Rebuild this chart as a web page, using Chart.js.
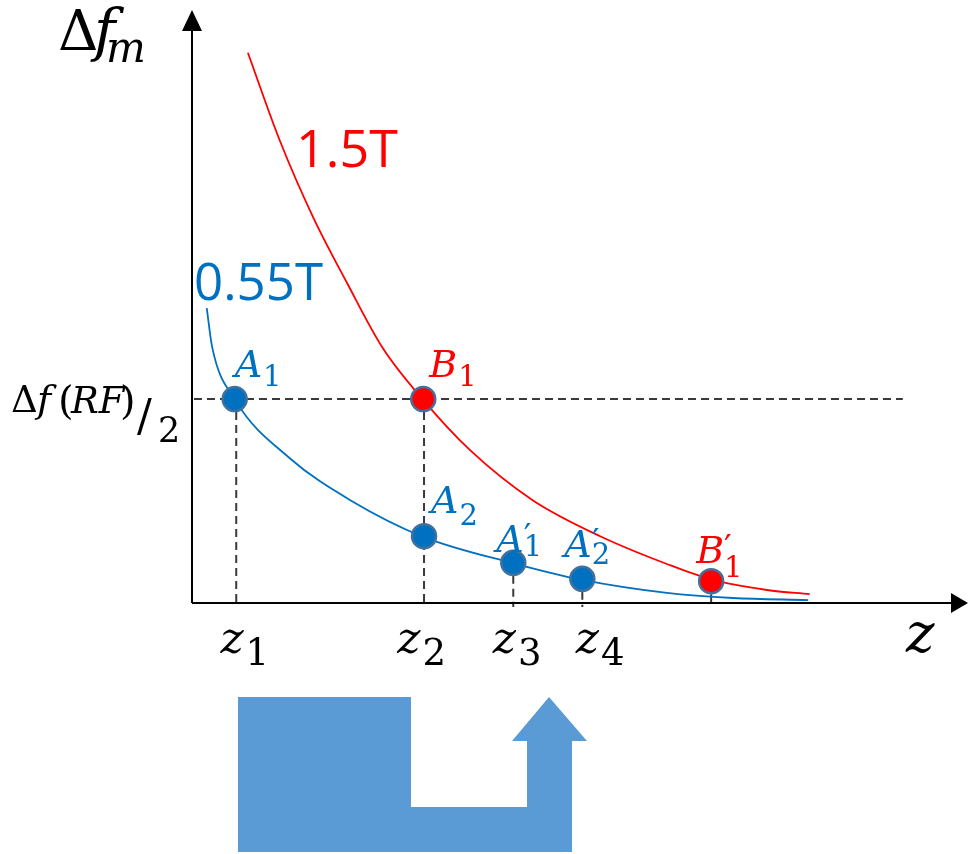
<!DOCTYPE html>
<html lang="en">
<head>
    <meta charset="UTF-8">
    <title>Δf_m vs z</title>
    <script src="https://cdn.jsdelivr.net/npm/chart.js"></script>
    <style>
        body {
            margin: 0;
            padding: 0;
            background: #ffffff;
        }
        #wrap {
            width: 968px;
            height: 854px;
        }
    </style>
</head>
<body>
    <div id="wrap">
        <canvas id="fieldChart" width="968" height="854"></canvas>
    </div>

    <script>
        // curves (z along x, Δf_m along y, arbitrary units 0..10)
        const redCurveZ = [0.72, 1.13, 1.56, 2.00, 2.46, 2.97, 3.58, 4.39, 5.26, 6.12, 6.71, 7.41, 7.96];
        const redCurveF = [9.31, 7.83, 6.53, 5.41, 4.31, 3.45, 2.59, 1.74, 1.13, 0.66, 0.39, 0.22, 0.15];
        const blueCurveZ = [0.19, 0.26, 0.55, 1.26, 2.04, 2.98, 4.12, 5.03, 6.12, 6.97, 7.94];
        const blueCurveF = [4.99, 4.33, 3.45, 2.45, 1.74, 1.12, 0.68, 0.39, 0.17, 0.085, 0.05];

        // marked points
        const bluePointNames = ['A1', 'A2', "A1'", "A2'"];
        const bluePointZ = [0.55, 2.99, 4.14, 5.03];
        const bluePointF = [3.45, 1.13, 0.68, 0.41];
        const redPointNames = ['B1', "B1'"];
        const redPointZ = [2.98, 6.69];
        const redPointF = [3.45, 0.37];

        // RF half bandwidth level and the dashed guide extent
        const rfLevel = 3.45;
        const guideEnd = 9.16;

        // x tick labels
        const zTickValues = [0.68, 2.96, 4.19, 5.26];
        const zTickLabels = ['1', '2', '3', '4'];

        const seriesNames = ['1.5T', '0.55T'];

        const BLUE = '#0070C0';
        const RED = '#FF0000';
        const SERIF = '"DejaVu Serif", "Liberation Serif", serif';
        const SANS = '"Open Sans", "Liberation Sans", sans-serif';

        function toXY(zs, fs) {
            return zs.map((z, i) => ({ x: z, y: fs[i] }));
        }

        function line(ctx, x1, y1, x2, y2) {
            ctx.beginPath();
            ctx.moveTo(x1, y1);
            ctx.lineTo(x2, y2);
            ctx.stroke();
        }

        function txt(ctx, s, font, x, y, color) {
            ctx.font = font;
            ctx.fillStyle = color;
            ctx.fillText(s, x, y);
            return ctx.measureText(s).width;
        }

        // label offsets from each point: letter position, subscript baseline
        const blueLabelPos = [
            { dx: 0, dy: -22, sdy: -13 },
            { dx: 7, dy: -23, sdy: -11 },
            { dx: -17, dy: -11, sdy: -7 },
            { dx: -18, dy: -22, sdy: -15 }
        ];
        const redLabelPos = [
            { dx: 6, dy: -22, sdy: -13 },
            { dx: -15, dy: -18, sdy: -4 }
        ];

        function drawPointLabel(ctx, name, px, py, pos, color) {
            const letter = name[0];
            const sub = name[1];
            const prime = name.length > 2;
            ctx.textBaseline = 'alphabetic';
            ctx.textAlign = 'left';
            const lx = px + pos.dx;
            const w = txt(ctx, letter, 'italic 38px ' + SERIF, lx, py + pos.dy, color);
            if (prime) {
                txt(ctx, '\u2032', '34px ' + SERIF, lx + w, py + pos.dy - 4, color);
            }
            txt(ctx, sub, '29px ' + SERIF, lx + w + (prime ? 0 : 1), py + pos.sdy, color);
        }

        const decor = {
            id: 'decor',
            beforeDatasetsDraw(chart) {
                const { ctx, scales: { x, y } } = chart;
                ctx.save();
                ctx.setLineDash([8, 5]);
                ctx.strokeStyle = '#3a3a3a';
                ctx.lineWidth = 2;
                const yg = y.getPixelForValue(rfLevel);
                line(ctx, x.getPixelForValue(0) + 2, yg, x.getPixelForValue(guideEnd), yg);
                const drops = [
                    [bluePointZ[0] + 0.02, bluePointF[0]],
                    [redPointZ[0] + 0.01, redPointF[0]],
                    [bluePointZ[2], bluePointF[2]],
                    [bluePointZ[3], bluePointF[3]],
                    [redPointZ[1], redPointF[1]]
                ];
                const y0 = y.getPixelForValue(0);
                drops.forEach(d => {
                    const px = x.getPixelForValue(d[0]);
                    line(ctx, px, y.getPixelForValue(d[1]), px, y0 + 4);
                });
                ctx.restore();
            },
            afterDraw(chart) {
                const { ctx, scales: { x, y } } = chart;
                const x0 = x.getPixelForValue(0);
                const y0 = y.getPixelForValue(0);
                ctx.save();

                // axes with arrow heads
                ctx.strokeStyle = '#000';
                ctx.fillStyle = '#000';
                ctx.lineWidth = 2;
                line(ctx, x0, y0, x0, 28);
                line(ctx, x0, y0, 954, y0);
                ctx.beginPath();
                ctx.moveTo(x0, 10);
                ctx.lineTo(x0 - 10, 31);
                ctx.lineTo(x0 + 10, 31);
                ctx.closePath();
                ctx.fill();
                ctx.beginPath();
                ctx.moveTo(968, y0);
                ctx.lineTo(951, y0 - 10);
                ctx.lineTo(951, y0 + 10);
                ctx.closePath();
                ctx.fill();

                ctx.textBaseline = 'alphabetic';
                ctx.textAlign = 'left';

                // y axis title Δf_m
                txt(ctx, 'Δ', '56px ' + SERIF, 58, 50, '#000');
                txt(ctx, 'f', 'italic 58px ' + SERIF, 94, 50, '#000');
                txt(ctx, 'm', 'italic 42px ' + SERIF, 106, 62, '#000');

                // level label Δf(RF)/2
                const lvl = y.getPixelForValue(rfLevel);
                txt(ctx, 'Δ', '37px ' + SERIF, 11, lvl + 13, '#000');
                txt(ctx, 'f', 'italic 38px ' + SERIF, 37, lvl + 13, '#000');
                txt(ctx, '(', '40px ' + SERIF, 58, lvl + 15, '#000');
                txt(ctx, 'RF', 'italic 37px ' + SERIF, 71, lvl + 14, '#000');
                txt(ctx, ')', '40px ' + SERIF, 120, lvl + 15, '#000');
                txt(ctx, '/', '44px ' + SERIF, 137, lvl + 32, '#000');
                txt(ctx, '2', '35px ' + SERIF, 158, lvl + 43, '#000');

                // x tick labels z_n
                zTickValues.forEach((v, i) => {
                    ctx.font = 'italic 44px ' + SERIF;
                    const wz = ctx.measureText('z').width;
                    ctx.font = '37px ' + SERIF;
                    const ws = ctx.measureText(zTickLabels[i]).width;
                    const left = x.getPixelForValue(v) - (wz + ws + 2) / 2;
                    txt(ctx, 'z', 'italic 44px ' + SERIF, left, y0 + 50, '#000');
                    txt(ctx, zTickLabels[i], '37px ' + SERIF, left + wz + 2, y0 + 62, '#000');
                });
                txt(ctx, 'z', 'italic 54px ' + SERIF, 906, y0 + 49, '#000');

                // series names
                txt(ctx, seriesNames[0], '52px ' + SANS, 296, 167, RED);
                txt(ctx, seriesNames[1], '51px ' + SANS, 194, 300, BLUE);

                // point labels
                bluePointNames.forEach((n, i) => {
                    drawPointLabel(ctx, n, x.getPixelForValue(bluePointZ[i]), y.getPixelForValue(bluePointF[i]), blueLabelPos[i], BLUE);
                });
                redPointNames.forEach((n, i) => {
                    drawPointLabel(ctx, n, x.getPixelForValue(redPointZ[i]), y.getPixelForValue(redPointF[i]), redLabelPos[i], RED);
                });

                // blue bent arrow below the axis
                ctx.fillStyle = '#5B9BD5';
                ctx.beginPath();
                ctx.moveTo(238, 697);
                ctx.lineTo(411, 697);
                ctx.lineTo(411, 807);
                ctx.lineTo(527, 807);
                ctx.lineTo(527, 741);
                ctx.lineTo(512, 741);
                ctx.lineTo(549, 697);
                ctx.lineTo(587, 741);
                ctx.lineTo(572, 741);
                ctx.lineTo(572, 852);
                ctx.lineTo(238, 852);
                ctx.closePath();
                ctx.fill();

                ctx.restore();
            }
        };

        const fieldChart = new Chart(document.getElementById('fieldChart').getContext('2d'), {
            type: 'scatter',
            data: {
                datasets: [
                    {
                        label: 'A points',
                        data: toXY(bluePointZ, bluePointF),
                        backgroundColor: BLUE,
                        borderColor: '#41719C',
                        borderWidth: 2.5,
                        pointRadius: 12,
                        order: 0
                    },
                    {
                        label: 'B points',
                        data: toXY(redPointZ, redPointF),
                        backgroundColor: RED,
                        borderColor: '#41719C',
                        borderWidth: 2.5,
                        pointRadius: 12,
                        order: 0
                    },
                    {
                        label: seriesNames[0],
                        data: toXY(redCurveZ, redCurveF),
                        showLine: true,
                        borderColor: RED,
                        borderWidth: 1.8,
                        pointRadius: 0,
                        cubicInterpolationMode: 'monotone',
                        order: 1
                    },
                    {
                        label: seriesNames[1],
                        data: toXY(blueCurveZ, blueCurveF),
                        showLine: true,
                        borderColor: BLUE,
                        borderWidth: 1.8,
                        pointRadius: 0,
                        cubicInterpolationMode: 'monotone',
                        order: 1
                    }
                ]
            },
            options: {
                responsive: false,
                animation: false,
                devicePixelRatio: 1,
                layout: {
                    autoPadding: false,
                    padding: { left: 192, right: 0, top: 12, bottom: 251 }
                },
                plugins: {
                    legend: { display: false },
                    tooltip: { enabled: false }
                },
                scales: {
                    x: { type: 'linear', min: 0, max: 10, display: false },
                    y: { type: 'linear', min: 0, max: 10, display: false }
                }
            },
            plugins: [decor]
        });
    </script>
</body>
</html>
